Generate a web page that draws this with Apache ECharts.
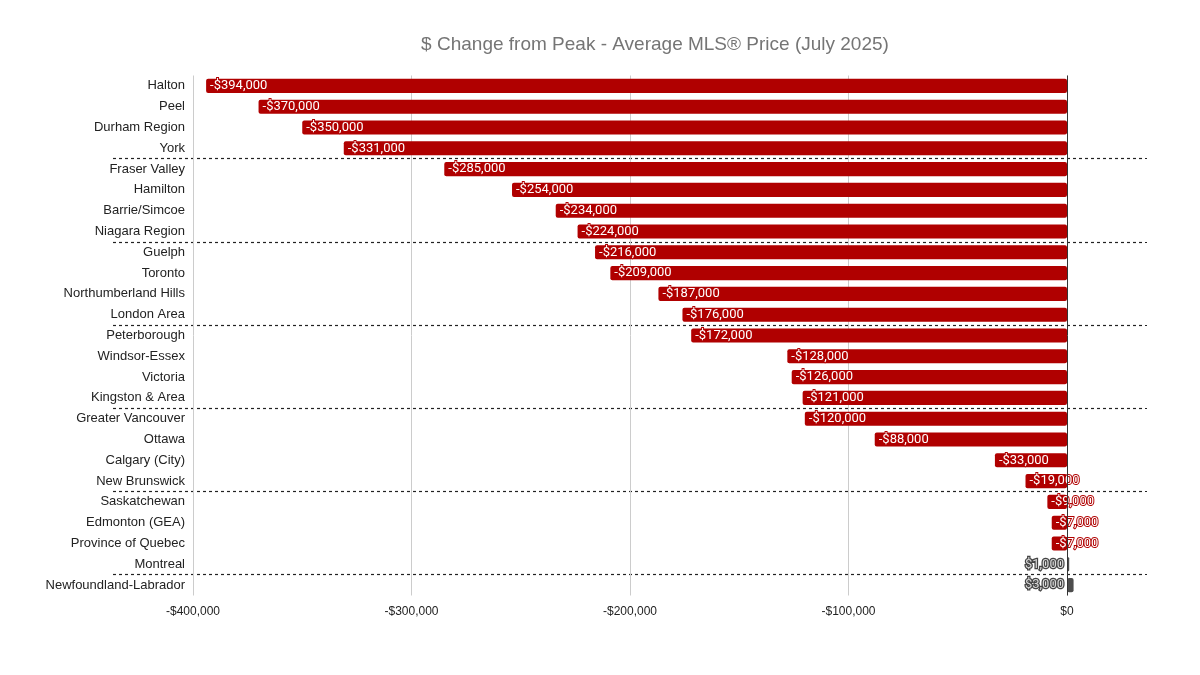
<!DOCTYPE html>
<html>
<head>
<meta charset="utf-8">
<script src="https://cdn.jsdelivr.net/npm/echarts@6/dist/echarts.min.js"></script>
<style>html,body{margin:0;padding:0;background:#fff}#c{width:1200px;height:675px}</style>
</head>
<body>
<div id="c"></div>
<script>
const titleText = '$ Change from Peak - Average MLS® Price (July 2025)';
const categories = ['Halton','Peel','Durham Region','York','Fraser Valley','Hamilton','Barrie/Simcoe','Niagara Region','Guelph','Toronto','Northumberland Hills','London Area','Peterborough','Windsor-Essex','Victoria','Kingston & Area','Greater Vancouver','Ottawa','Calgary (City)','New Brunswick','Saskatchewan','Edmonton (GEA)','Province of Quebec','Montreal','Newfoundland-Labrador'];
const values = [-394000,-370000,-350000,-331000,-285000,-254000,-234000,-224000,-216000,-209000,-187000,-176000,-172000,-128000,-126000,-121000,-120000,-88000,-33000,-19000,-9000,-7000,-7000,1000,3000];
const xTicks = [-400000,-300000,-200000,-100000,0];
const groupSize = 4;

const RED = '#b00000', GREY = '#4d4d4d';
function fmt(v){
  const s = Math.abs(v).toLocaleString('en-US');
  return (v < 0 ? '-$' : '$') + s;
}
const data = values.map(v => {
  const neg = v < 0;
  return {
    value: v,
    itemStyle: { color: neg ? RED : GREY, borderRadius: 2 },
    label: neg ? {
      position: 'insideLeft', distance: 4, color: '#fff',
      textBorderColor: RED, textBorderWidth: 2
    } : {
      position: 'left', distance: 3, color: '#d9d9d9',
      textBorderColor: '#444', textBorderWidth: 2.5
    }
  };
});
const sepInterval = (i) => i > 0 && i % groupSize === 0 && i < categories.length;

const chart = echarts.init(document.getElementById('c'));
chart.setOption({
  animation: false,
  title: {
    text: titleText, left: 650, top: 30, textAlign: 'center',
    textStyle: { fontFamily: 'Liberation Sans', fontSize: 19, fontWeight: 'normal', color: '#757575' }
  },
  grid: [
    { left: 193, right: 53, top: 75.5, bottom: 79.5, containLabel: false },
    { left: 113, right: 53, top: 75.5, bottom: 79.5, containLabel: false }
  ],
  xAxis: [{
    type: 'value', gridIndex: 0, min: xTicks[0], max: 36600, interval: 100000,
    axisLine: { show: false }, axisTick: { show: false },
    axisLabel: {
      showMaxLabel: false, margin: 10,
      fontFamily: 'Liberation Sans', fontSize: 12, color: '#222',
      formatter: v => xTicks.includes(v) ? fmt(v) : ''
    },
    splitLine: { show: true, showMaxLine: false, lineStyle: { color: '#cccccc', width: 1 } }
  }, {
    type: 'value', gridIndex: 1, min: 0, max: 1, show: false
  }],
  yAxis: [{
    type: 'category', gridIndex: 0, data: categories, inverse: true,
    axisLine: { show: false, onZero: false }, axisTick: { show: false },
    splitLine: { show: false },
    axisLabel: { fontFamily: 'Liberation Sans', fontSize: 13, color: '#222', margin: 8, padding: [3, 0, 0, 0] }
  }, {
    type: 'category', gridIndex: 1, data: categories, inverse: true,
    axisLine: { show: false, onZero: false }, axisTick: { show: false }, axisLabel: { show: false },
    splitLine: { show: true, showMaxLine: false, interval: sepInterval,
      lineStyle: { color: '#222', type: [3, 3], width: 1.2 } }
  }],
  series: [{
    type: 'bar', xAxisIndex: 0, yAxisIndex: 0, data: data, barCategoryGap: '32%',
    label: {
      show: true, formatter: p => fmt(p.value),
      fontFamily: 'Roboto', fontSize: 13
    },
    markLine: {
      silent: true, symbol: 'none', label: { show: false },
      lineStyle: { color: '#333', type: 'solid', width: 1 },
      data: [{ xAxis: 0 }]
    }
  }]
});
</script>
</body>
</html>
